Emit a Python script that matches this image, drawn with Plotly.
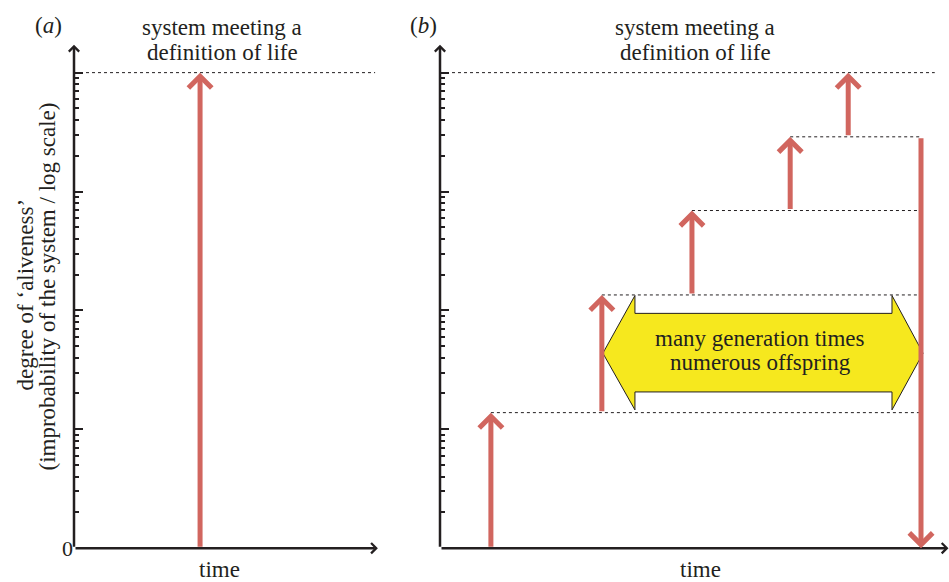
import math
import plotly.graph_objects as go

# ---------------- data (y values are log10 of the improbability) ----------------
decades = [0, 1, 2, 3, 4]
decade_labels_a = ["0", "", "", "", ""]
life_level = 4.0

# panel (a): one big jump
jump_x_a = 4.12
jump_from_a = 0.0
line_end_a = 9.84

# panel (b): stepwise climb
step_x_b = [1.0, 3.18, 4.95, 6.88, 8.02]
step_from_b = [0.0, 1.14, 2.13, 2.84, 3.46]
step_to_b = [1.14, 2.13, 2.84, 3.46, 4.0]
level_start_b = [1.0, 3.18, 4.95, 6.88, 0.0]
level_end_b = [9.45, 9.45, 9.45, 9.45, 9.72]
fall_x_b = 9.45
fall_from_b = 3.46
fall_to_b = 0.0

# yellow double arrow outline
yellow_x = [3.20, 3.83, 3.83, 8.88, 8.88, 9.49, 8.88, 8.88, 3.83, 3.83, 3.20]
yellow_y = [1.64, 2.125, 1.975, 1.975, 2.125, 1.64, 1.163, 1.314, 1.314, 1.163, 1.64]

# texts
goal_lines = ["system meeting a", "definition of life"]
yellow_lines = ["many generation times", "numerous offspring"]
ytitle_lines = ["degree of ‘aliveness’", "(improbability of the system / log scale)"]

# ---------------- styling ----------------
RED = "#D1665F"
INK = "#231F20"
YEL = "#F6E81E"
FONT = "Liberation Serif, Times New Roman, Times, serif"
W = 949          # page width
REF_H = 582      # reference frame used for placing elements
FIG_H = 592      # rendered figure height

minor_vals = [n + math.log10(k) for n in range(4) for k in range(2, 10)]

fig = go.Figure()

# dotted levels
fig.add_trace(go.Scatter(x=[0, line_end_a], y=[life_level, life_level], mode="lines",
                         line=dict(color=INK, width=1, dash="dot"), xaxis="x", yaxis="y",
                         hoverinfo="skip", showlegend=False))
for xs, xe, lv in zip(level_start_b, level_end_b, step_to_b):
    fig.add_trace(go.Scatter(x=[xs, xe], y=[lv, lv], mode="lines",
                             line=dict(color=INK, width=1, dash="dot"), xaxis="x2", yaxis="y2",
                             hoverinfo="skip", showlegend=False))

# yellow double arrow
fig.add_trace(go.Scatter(x=yellow_x, y=yellow_y, mode="lines", fill="toself", fillcolor=YEL,
                         line=dict(color=INK, width=1), xaxis="x2", yaxis="y2",
                         hoverinfo="skip", showlegend=False))

ann = []


def arrow(x, y, ax, ay, xr, yr, color, width, size):
    ann.append(dict(x=x, y=y, ax=ax, ay=ay, xref=xr, yref=yr, axref=xr, ayref=yr,
                    showarrow=True, arrowhead=4, arrowwidth=width, arrowsize=size,
                    arrowcolor=color, text="", standoff=0))


# axes arrows
arrow(0, 4.234, 0, 0, "x", "y", INK, 2.5, 0.8)
arrow(9.93, 0, 0, 0, "x", "y", INK, 2.5, 0.8)
arrow(0, 4.234, 0, 0, "x2", "y2", INK, 2.5, 0.8)
arrow(9.99, 0, 0, 0, "x2", "y2", INK, 2.5, 0.8)

# red arrows
arrow(jump_x_a, life_level, jump_x_a, jump_from_a, "x", "y", RED, 5, 0.9)
for xv, y0, y1 in zip(step_x_b, step_from_b, step_to_b):
    arrow(xv, y1, xv, y0, "x2", "y2", RED, 5, 0.9)
arrow(fall_x_b, fall_to_b, fall_x_b, fall_from_b, "x2", "y2", RED, 5, 0.9)

tf = dict(family=FONT, size=23, color=INK)


def px(xp):
    return xp / W


def py(yp):
    return 1 - yp / REF_H


def label(text, x, y, **kw):
    d = dict(text=text, x=px(x), y=py(y), xref="paper", yref="paper", showarrow=False,
             font=tf, xanchor="center", yanchor="middle")
    d.update(kw)
    ann.append(d)


label("(<i>a</i>)", 48, 26)
label("(<i>b</i>)", 423, 26)
for cx in (222, 695):
    label(goal_lines[0], cx, 28)
    label(goal_lines[1], cx, 53)
label("time", 219, 572)
label("time", 700, 572)
label(ytitle_lines[0], 25, 296, textangle=-90)
label(ytitle_lines[1], 48, 288, textangle=-90)
for txt, yv in zip(yellow_lines, [1.765, 1.565]):
    ann.append(dict(text=txt, x=6.29, y=yv, xref="x2", yref="y2", showarrow=False, font=tf,
                    xanchor="center", yanchor="middle"))

ydom = [py(551), py(551 - 4.3 * 119.5)]


def yaxis(labels, show):
    return dict(domain=ydom, range=[0, 4.3], tickmode="array", tickvals=decades, ticktext=labels,
                showticklabels=show, ticks="inside", ticklen=9, tickwidth=1.5, tickcolor=INK,
                tickfont=dict(family=FONT, size=22, color=INK),
                minor=dict(tickmode="array", tickvals=minor_vals, ticks="inside", ticklen=5,
                           tickwidth=1.5, tickcolor=INK, showgrid=False),
                showgrid=False, zeroline=False, showline=False, fixedrange=True)


def xaxis(dom, anchor):
    return dict(domain=dom, range=[0, 10], anchor=anchor, showticklabels=False, ticks="",
                showgrid=False, zeroline=False, showline=False, fixedrange=True)


fig.update_layout(
    width=W, height=FIG_H, margin=dict(l=0, r=0, t=0, b=0, pad=0),
    paper_bgcolor="white", plot_bgcolor="white",
    xaxis=xaxis([px(74), px(380)], "y"),
    yaxis=dict(yaxis(decade_labels_a, True), anchor="x"),
    xaxis2=xaxis([px(440), 1.0], "y2"),
    yaxis2=dict(yaxis(decade_labels_a, False), anchor="x2"),
    annotations=ann,
    showlegend=False,
)

page_fix = (
    "var s=document.documentElement.style;s.margin='0';s.padding='0';s.overflow='hidden';"
    "var b=document.body.style;b.margin='0';b.padding='0';b.overflow='hidden';"
    "var gd=document.getElementById('{plot_id}');gd.style.position='fixed';"
    "gd.style.top='0px';gd.style.left='0px';"
)

fig.write_html("out.html", config={"displayModeBar": False, "responsive": False},
               post_script=page_fix)
